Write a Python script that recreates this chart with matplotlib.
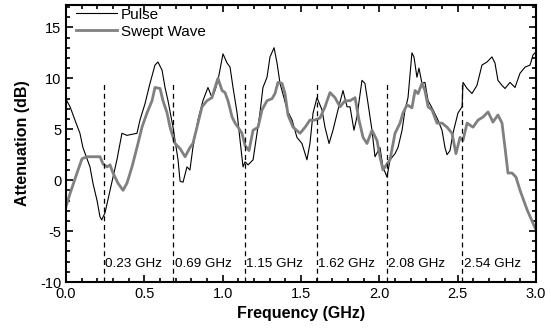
import numpy as np
import matplotlib
matplotlib.use("Agg")
import matplotlib.pyplot as plt
from matplotlib.ticker import MultipleLocator

plt.rcParams['font.family'] = ['Liberation Sans', 'DejaVu Sans']
plt.rcParams['axes.unicode_minus'] = False

# pulse measurement (GHz, dB)
pulse_f = [0.000, 0.005, 0.026, 0.057, 0.089, 0.108, 0.153, 0.172, 0.198, 0.217, 0.228, 0.249,
           0.281, 0.325, 0.357, 0.389, 0.453, 0.472, 0.504, 0.536, 0.568, 0.587, 0.613, 0.632,
           0.651, 0.683, 0.715, 0.728, 0.747, 0.772, 0.791, 0.810, 0.842, 0.874, 0.906, 0.932,
           0.951, 0.970, 1.002, 1.028, 1.047, 1.066, 1.092, 1.111, 1.130, 1.143, 1.162, 1.194,
           1.219, 1.238, 1.257, 1.283, 1.302, 1.328, 1.347, 1.366, 1.391, 1.411, 1.443, 1.474,
           1.506, 1.538, 1.557, 1.577, 1.602, 1.634, 1.653, 1.679, 1.704, 1.736, 1.768, 1.794,
           1.813, 1.838, 1.857, 1.889, 1.908, 1.928, 1.953, 1.972, 2.004, 2.023, 2.049, 2.068,
           2.100, 2.119, 2.145, 2.164, 2.183, 2.208, 2.221, 2.240, 2.253, 2.272, 2.291, 2.311,
           2.343, 2.374, 2.400, 2.419, 2.432, 2.451, 2.470, 2.502, 2.528, 2.534, 2.560, 2.591,
           2.623, 2.655, 2.687, 2.719, 2.738, 2.757, 2.783, 2.802, 2.834, 2.866, 2.898, 2.930,
           2.962, 2.981, 3.000]
pulse_db = [8.5, 7.8, 7.2, 5.9, 4.6, 3.2, 1.3, -0.3, -2.0, -3.6, -3.9, -3.2,
            -1.0, 2.0, 4.6, 4.4, 4.6, 5.9, 7.5, 9.5, 11.3, 11.6, 10.8, 9.1,
            7.8, 5.2, 2.0, -0.1, -0.2, 1.3, 1.0, 3.2, 5.9, 7.8, 9.1, 8.1,
            8.8, 9.8, 12.4, 11.5, 11.1, 9.1, 6.6, 3.9, 1.3, 1.8, 1.5, 2.0,
            4.6, 6.6, 9.1, 10.1, 12.1, 13.0, 11.5, 9.5, 8.1, 6.9, 5.9, 4.2,
            3.6, 2.0, 3.6, 6.6, 8.1, 6.9, 5.2, 3.6, 4.9, 6.9, 8.8, 7.2,
            7.2, 4.9, 6.2, 9.8, 9.5, 7.5, 4.9, 2.3, 3.2, 1.3, 0.3, 2.0,
            2.6, 3.2, 4.9, 6.9, 8.1, 12.5, 12.1, 10.1, 11.0, 9.5, 9.6, 7.8,
            6.9, 5.9, 4.9, 3.2, 2.5, 2.9, 4.6, 6.6, 7.2, 9.6, 9.0, 8.5,
            9.3, 11.3, 11.6, 12.1, 11.5, 9.8, 9.3, 9.0, 9.6, 9.1, 10.5, 11.1,
            11.3, 12.3, 12.6]

# swept wave measurement (GHz, dB)
swept_f = [0.000, 0.026, 0.070, 0.102, 0.134, 0.172, 0.217, 0.236, 0.262, 0.281, 0.300, 0.332,
           0.364, 0.389, 0.421, 0.453, 0.485, 0.517, 0.549, 0.568, 0.600, 0.619, 0.645, 0.664,
           0.696, 0.728, 0.760, 0.791, 0.810, 0.836, 0.868, 0.900, 0.932, 0.951, 0.970, 0.996,
           1.015, 1.034, 1.060, 1.079, 1.098, 1.123, 1.143, 1.168, 1.194, 1.226, 1.251, 1.283,
           1.315, 1.334, 1.353, 1.379, 1.398, 1.417, 1.449, 1.494, 1.526, 1.557, 1.589, 1.621,
           1.653, 1.685, 1.717, 1.749, 1.781, 1.813, 1.845, 1.870, 1.896, 1.921, 1.953, 1.985,
           2.004, 2.023, 2.049, 2.068, 2.100, 2.132, 2.151, 2.177, 2.208, 2.228, 2.247, 2.272,
           2.291, 2.311, 2.336, 2.368, 2.400, 2.432, 2.464, 2.489, 2.515, 2.534, 2.560, 2.598,
           2.630, 2.662, 2.694, 2.725, 2.757, 2.783, 2.802, 2.821, 2.847, 2.872, 2.898, 2.943,
           3.000]
swept_db = [-2.6, -1.3, 0.7, 2.1, 2.3, 2.3, 2.3, 1.6, 1.3, 1.5, 0.7, -0.3,
            -1.0, -0.3, 1.3, 3.2, 5.2, 6.6, 7.8, 9.1, 9.0, 7.8, 6.6, 5.2,
            3.6, 3.1, 2.3, 3.2, 3.6, 5.2, 7.2, 7.8, 8.1, 9.1, 10.0, 8.8,
            8.6, 7.8, 6.2, 5.6, 5.2, 4.6, 3.4, 2.9, 4.9, 5.2, 6.9, 7.8,
            8.0, 8.5, 9.6, 9.5, 8.5, 6.4, 5.2, 4.6, 5.2, 5.9, 5.9, 6.1,
            7.2, 8.6, 8.1, 7.2, 7.8, 7.8, 8.1, 5.9, 4.2, 3.6, 4.9, 3.9,
            2.3, 1.0, 1.6, 2.0, 4.6, 5.6, 6.6, 7.4, 7.1, 8.8, 8.5, 9.5,
            8.8, 7.2, 6.9, 5.6, 5.6, 5.2, 4.6, 2.6, 4.2, 3.9, 5.6, 5.2,
            5.9, 6.2, 6.7, 5.7, 6.4, 5.6, 3.2, 0.7, 0.7, 0.3, -1.0, -2.9,
            -4.9]

# resonance markers
marker_f = [0.24, 0.685, 1.14, 1.60, 2.05, 2.53]
marker_labels = ['0.23 GHz', '0.69 GHz', '1.15 GHz', '1.62 GHz', '2.08 GHz', '2.54 GHz']

fig = plt.figure(figsize=(5.51, 3.31), dpi=100)
ax = fig.add_axes([0.1198, 0.148, 0.853, 0.837])

ax.plot(pulse_f, pulse_db, color='black', lw=0.8, label='Pulse')
ax.plot(swept_f, swept_db, color='#808080', lw=2.0, label='Swept Wave')

ax.vlines(marker_f, -10, 9.5, colors='black', linestyles=(0, (4, 3)), lw=0.9)
for f, lab in zip(marker_f, marker_labels):
    ax.text(f + 0.008, -8.2, lab, fontsize=9.7, ha='left', va='center')

ax.set_xlim(0, 3.0)
ax.set_ylim(-10, 17.2)
ax.xaxis.set_major_locator(MultipleLocator(0.5))
ax.xaxis.set_minor_locator(MultipleLocator(0.1))
ax.yaxis.set_major_locator(MultipleLocator(5))
ax.yaxis.set_minor_locator(MultipleLocator(1))
ax.xaxis.set_major_formatter(plt.FormatStrFormatter('%.1f'))
ax.tick_params(which='both', direction='in', top=True, right=True, labelsize=10.5, width=1.2)
ax.tick_params(which='major', length=5)
ax.tick_params(which='minor', length=3)
for s in ax.spines.values():
    s.set_linewidth(1.5)

ax.set_xlabel('Frequency (GHz)', fontsize=11.5, fontweight='bold', labelpad=4)
ax.set_ylabel('Attenuation (dB)', fontsize=11.5, fontweight='bold', labelpad=7)

ax.legend(loc='upper left', frameon=False, fontsize=11, handlelength=2.7,
          borderaxespad=0.0, labelspacing=0.2, handletextpad=0.25,
          bbox_to_anchor=(0.008, 1.012))

fig.savefig('out.png', dpi=100)
